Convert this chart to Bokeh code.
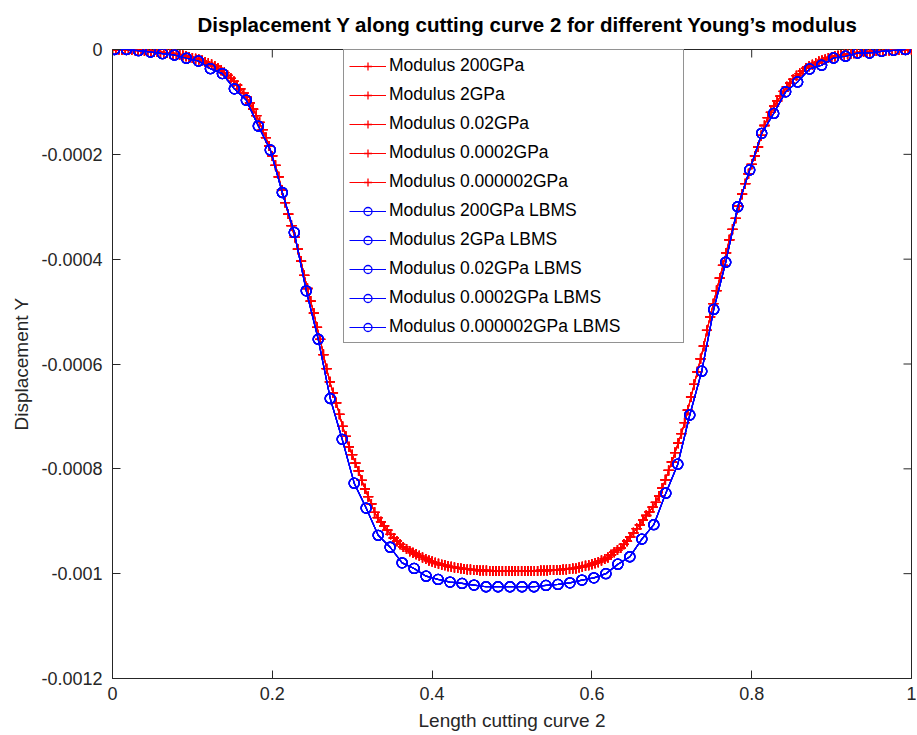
import math
from bokeh.plotting import figure
from bokeh.models import Range1d, FixedTicker, Legend, LegendItem, ColumnDataSource
from bokeh.embed import file_html
from bokeh.resources import INLINE

# ---------------- data ----------------
# FEM-type solutions (red '+'), sampled every 0.004 along the curve
red_x = [round(i * 0.004, 3) for i in range(251)]
# displacement Y in units of 1e-6 (negative = downward)
red_disp_e6 = [
    0, 0, -0.2, -0.4, -0.6, -0.9, -1.1, -1.4, -1.7, -2.0,
    -2.6, -3.1, -3.6, -4.2, -4.8, -5.5, -6.1, -6.8, -7.5, -8.5,
    -9.5, -10.5, -11.5, -12.7, -14.3, -16, -17.6, -19.2, -21.2, -23.7,
    -26.3, -28.8, -32, -36, -39.5, -44, -49.5, -55, -61, -68,
    -75, -83, -91, -102, -114, -126, -139, -153, -168, -184,
    -203, -221, -243, -268, -292, -314, -336, -358, -381, -404,
    -431, -456, -480, -503, -530, -553, -582, -609, -634, -655,
    -674, -696, -719, -738, -758, -773, -789, -804, -822, -838,
    -853, -867, -883, -893, -901, -909, -917, -925, -932, -938,
    -944, -949, -953, -957, -960, -963, -966, -969, -972, -975,
    -977, -979, -981, -983, -984, -986, -987, -988, -989, -990,
    -991, -992, -992, -993, -993, -994, -994, -994, -995, -995,
    -995, -995, -995, -995, -995, -995, -995, -995, -995, -995,
    -995, -995, -995, -995, -994, -994, -994, -993, -993, -993,
    -993, -992, -992, -991, -990, -990, -988, -987, -985, -984,
    -982, -980, -978, -975, -972, -969, -964, -959, -955, -951,
    -944, -938, -930, -922, -914, -907, -898, -889, -882, -873,
    -864, -852, -837, -821, -803, -787, -769, -751, -733, -712,
    -688, -663, -639, -615, -590, -566, -536, -510, -485, -460,
    -436, -412, -388, -363, -343, -322, -299, -276, -256, -237,
    -219, -203, -186, -164, -145, -130, -120, -108, -98, -89,
    -80, -71, -64, -57, -50, -46, -41, -36, -32, -29,
    -26, -23, -21, -19, -16, -14.5, -13, -12, -10.5, -9.7,
    -9, -8, -7.3, -6.5, -5.7, -5, -4.5, -4, -3.5, -3,
    -2.5, -2.3, -2, -1.7, -1.4, -1.2, -1, -0.8, -0.5, -0.3,
    0,
]

# LBMS solutions (blue 'o'), cell centres
blue_x = [round(0.0025 + 0.015 * i, 4) for i in range(67)]
blue_disp_e6 = [
    0, 0, -2.3, -4.8, -8, -10.5, -16.7, -21.9, -36.5, -46,
    -75, -96.6, -146, -191.6, -272.8, -348.9, -460.4, -552.8, -665.8, -743.7,
    -827.3, -874.9, -926.8, -949.6, -979.4, -990, -1004.7, -1011, -1016, -1018.6,
    -1021.8, -1025, -1025, -1025, -1025, -1025, -1022.4, -1020.5, -1017.5, -1012.3,
    -1008, -1000, -981.9, -967.7, -934, -906.6, -846.4, -791.2, -697.3, -613.7,
    -495.8, -405.9, -300, -229.7, -160, -122, -80.8, -61.8, -37, -30,
    -16.2, -12.9, -6.7, -6.7, -3.4, -1.5, 0,
]

moduli = ["200GPa", "2GPa", "0.02GPa", "0.0002GPa", "0.000002GPa"]

x_ticks = [0, 0.2, 0.4, 0.6, 0.8, 1]
x_tick_labels = ["0", "0.2", "0.4", "0.6", "0.8", "1"]
y_ticks = [-0.0012, -0.001, -0.0008, -0.0006, -0.0004, -0.0002, 0]
y_tick_labels = ["-0.0012", "-0.001", "-0.0008", "-0.0006", "-0.0004", "-0.0002", "0"]

title_text = "Displacement Y along cutting curve 2 for different Young\u2019s modulus"
x_label = "Length cutting curve 2"
y_label = "Displacement Y"

# ---------------- figure ----------------
FONT = "Liberation Sans"
AX = "#262626"

red_src = ColumnDataSource(dict(x=red_x, y=[v * 1e-6 for v in red_disp_e6]))
blue_src = ColumnDataSource(dict(x=blue_x, y=[v * 1e-6 for v in blue_disp_e6]))

p = figure(width=916, height=734, output_backend="svg", toolbar_location=None,
           x_range=Range1d(0, 1), y_range=Range1d(-0.0012, 0),
           min_border_left=112, min_border_right=5, min_border_top=47, min_border_bottom=56,
           background_fill_color="white", border_fill_color="white")
p.xgrid.visible = False
p.ygrid.visible = False
p.outline_line_color = AX
p.outline_line_width = 1

p.title.text = title_text
p.title.align = "left"
p.title.offset = 85
p.title.vertical_align = "top"
p.title.standoff = 24
p.title.text_font = FONT
p.title.text_font_size = "20.5px"
p.title.text_font_style = "bold"
p.title.text_color = "black"

def style_axis(ax):
    ax.axis_line_color = AX
    ax.major_tick_line_color = AX
    ax.major_tick_in = 8
    ax.major_tick_out = 0
    ax.minor_tick_in = 0
    ax.minor_tick_out = 0
    ax.major_label_text_font = FONT
    ax.major_label_text_color = AX
    ax.major_label_text_font_size = "18px"
    ax.axis_label_text_font = FONT
    ax.axis_label_text_font_size = "19px"
    ax.axis_label_text_font_style = "normal"
    ax.axis_label_text_color = AX

xa = p.xaxis[0]
xa.ticker = FixedTicker(ticks=x_ticks)
xa.major_label_overrides = dict(zip(x_ticks, x_tick_labels))
style_axis(xa)
xa.major_label_standoff = 8
xa.axis_label = x_label
xa.axis_label_standoff = 7

ya = p.yaxis[0]
ya.ticker = FixedTicker(ticks=y_ticks)
ya.major_label_overrides = dict(zip(y_ticks, y_tick_labels))
style_axis(ya)
ya.major_label_standoff = 10
ya.axis_label = y_label
ya.axis_label_standoff = 6

# inward ticks on the top and right edges of the box
p.ray(x=x_ticks, y=[0] * len(x_ticks), length=8, length_units="screen",
      angle=-math.pi / 2, line_color=AX, line_width=1)
p.ray(x=[1] * len(y_ticks), y=y_ticks, length=8, length_units="screen",
      angle=math.pi, line_color=AX, line_width=1)

items = []
for m in moduli:
    lr = p.line("x", "y", source=red_src, line_color="#ff0000", line_width=1)
    sr = p.scatter("x", "y", source=red_src, marker="cross", size=10,
                   line_color="#ff0000", line_width=1.3)
    items.append(LegendItem(label="Modulus " + m, renderers=[lr, sr]))
for m in moduli:
    lb = p.line("x", "y", source=blue_src, line_color="#0000ff", line_width=1.2)
    sb = p.scatter("x", "y", source=blue_src, marker="circle", size=10,
                   line_color="#0000ff", fill_color=None, line_width=1.3)
    items.append(LegendItem(label="Modulus " + m + " LBMS", renderers=[lb, sb]))

legend = Legend(items=items, location=(231, 335), margin=0, padding=5,
                spacing=8, glyph_width=37, glyph_height=20, label_height=20,
                label_standoff=3, label_width=289,
                label_text_font=FONT, label_text_font_size="17.5px",
                label_text_color="black",
                border_line_color=AX, border_line_width=1,
                background_fill_color="white", background_fill_alpha=1)
p.add_layout(legend)

open("out.html", "w").write(file_html(p, INLINE))
